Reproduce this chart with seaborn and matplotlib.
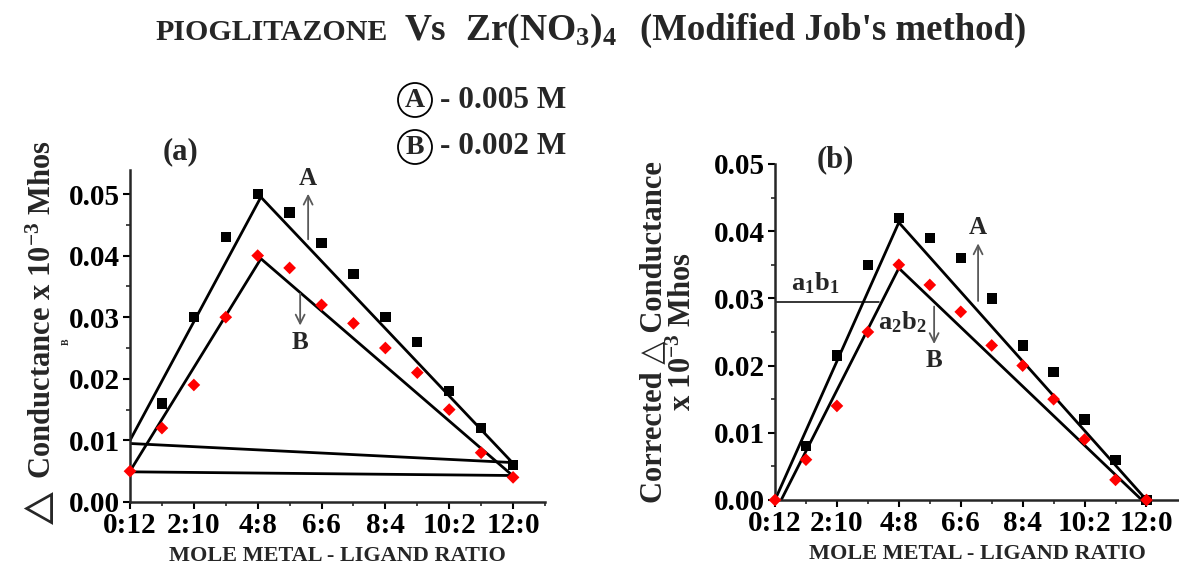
import numpy as np
import pandas as pd
import matplotlib
matplotlib.use("Agg")
import matplotlib.pyplot as plt
from matplotlib.patches import Circle
from matplotlib.ticker import MultipleLocator, FixedLocator, FormatStrFormatter
import seaborn as sns

# ---- data -------------------------------------------------------------
ratio_pos = [0, 2, 4, 6, 8, 10, 12]
ratio_labels = ["0:12", "2:10", "4:8", "6:6", "8:4", "10:2", "12:0"]

# (a) observed conductance
a_x_A = [1, 2, 3, 4, 5, 6, 7, 8, 9, 10, 11, 12]
a_y_A = [0.016, 0.030, 0.043, 0.050, 0.047, 0.042, 0.037, 0.030, 0.026, 0.018, 0.012, 0.006]
a_x_B = [0, 1, 2, 3, 4, 5, 6, 7, 8, 9, 10, 11, 12]
a_y_B = [0.005, 0.012, 0.019, 0.030, 0.040, 0.038, 0.032, 0.029, 0.025, 0.021, 0.015, 0.008, 0.004]

# (a) fitted lines
a_lineA_x = [0, 4.1, 12.05]
a_lineA_y = [0.0100, 0.0495, 0.0060]
a_lineB_x = [0, 4.1, 12.05]
a_lineB_y = [0.0050, 0.0395, 0.0040]
a_baseA_x = [0, 12]
a_baseA_y = [0.0095, 0.0064]
a_baseB_x = [0, 12]
a_baseB_y = [0.0049, 0.0043]

# (b) corrected conductance
b_x_A = [1, 2, 3, 4, 5, 6, 7, 8, 9, 10, 11, 12]
b_y_A = [0.008, 0.0215, 0.035, 0.042, 0.039, 0.036, 0.030, 0.023, 0.019, 0.012, 0.006, 0.000]
b_x_B = [0, 1, 2, 3, 4, 5, 6, 7, 8, 9, 10, 11, 12]
b_y_B = [0.000, 0.006, 0.014, 0.025, 0.035, 0.032, 0.028, 0.023, 0.020, 0.015, 0.009, 0.003, 0.000]

# (b) fitted lines
b_lineA_x = [0, 4.0, 12.0]
b_lineA_y = [0.0, 0.0413, 0.0]
b_lineB_x = [0.2, 4.0, 11.85]
b_lineB_y = [0.0, 0.0345, 0.0]
b_level_x = [0, 3.37]
b_level_y = [0.0295, 0.0295]

# ---- style ------------------------------------------------------------
sns.set_style("ticks")
plt.rcParams["font.family"] = ["Liberation Serif", "DejaVu Sans"]
plt.rcParams["font.weight"] = "bold"
plt.rcParams["mathtext.fontset"] = "custom"
plt.rcParams["mathtext.rm"] = "Liberation Serif:bold"
plt.rcParams["mathtext.it"] = "Liberation Serif:bold"
plt.rcParams["mathtext.bf"] = "Liberation Serif:bold"
plt.rcParams["mathtext.fallback"] = "stix"
plt.rcParams["axes.linewidth"] = 1.8

W, H = 1179, 569
fig = plt.figure(figsize=(W / 100, H / 100), dpi=100)


def px_axes(left, top, right, bottom):
    return fig.add_axes([left / W, 1 - bottom / H, (right - left) / W, (bottom - top) / H])


ax_a = px_axes(130, 170, 545, 502)
ax_b = px_axes(775, 164, 1179, 500)

for ax in (ax_a, ax_b):
    sns.despine(ax=ax)
    ax.set_facecolor("white")
    ax.xaxis.set_major_locator(FixedLocator(ratio_pos))
    ax.set_xticklabels(ratio_labels)
    ax.yaxis.set_major_locator(MultipleLocator(0.01))
    ax.yaxis.set_minor_locator(MultipleLocator(0.005))
    ax.yaxis.set_major_formatter(FormatStrFormatter("%.2f"))
    ax.tick_params(axis="both", which="major", length=5, width=1.5, pad=2,
                   colors="black", labelsize=21)
    ax.tick_params(axis="both", which="minor", length=3, width=1.2)
    for lab in ax.get_xticklabels() + ax.get_yticklabels():
        lab.set_fontweight("bold")
    ax.set_xlabel("MOLE METAL - LIGAND RATIO", fontsize=16, fontweight="bold", labelpad=5)

ax_a.xaxis.set_minor_locator(FixedLocator([1, 3, 5, 7, 9, 11, 13]))
ax_b.xaxis.set_minor_locator(FixedLocator([1, 3, 5, 7, 9, 11]))
ax_a.set_xlim(0, 13)
ax_a.set_ylim(0, 0.0539)
ax_b.set_xlim(0, 13.05)
ax_b.set_ylim(0, 0.05)

line_kw = dict(color="black", lw=2.0, solid_joinstyle="miter", zorder=2)
arrow_kw = dict(arrowstyle="->", color="0.35", lw=1.3, mutation_scale=16)

# ---- panel (a) --------------------------------------------------------
for xs, ys in [(a_lineA_x, a_lineA_y), (a_lineB_x, a_lineB_y),
               (a_baseA_x, a_baseA_y), (a_baseB_x, a_baseB_y)]:
    ax_a.plot(xs, ys, **line_kw)

sns.scatterplot(x=a_x_A, y=a_y_A, ax=ax_a, marker="s", s=55, color="black",
                edgecolor="none", zorder=3, clip_on=False)
sns.scatterplot(x=a_x_B, y=a_y_B, ax=ax_a, marker="D", s=42, color="red",
                edgecolor="none", zorder=3, clip_on=False)

ax_a.annotate("", xy=(5.58, 0.0505), xytext=(5.58, 0.0422), arrowprops=arrow_kw)
ax_a.annotate("", xy=(5.33, 0.0282), xytext=(5.33, 0.0343), arrowprops=arrow_kw)
ax_a.text(5.58, 0.0507, "A", ha="center", va="bottom", fontsize=18, fontweight="bold")
ax_a.text(5.33, 0.0277, "B", ha="center", va="top", fontsize=18, fontweight="bold")

ax_a.set_ylabel(r"$\triangle$ Conductance x 10$^{-3}$ Mhos", fontsize=22, fontweight="bold")
ax_a.yaxis.set_label_coords(-0.175, 0.50)
fig.text(66 / W, 1 - 342 / H, "B", rotation=90, fontsize=7, ha="center", va="center")

# ---- panel (b) --------------------------------------------------------
for xs, ys in [(b_lineA_x, b_lineA_y), (b_lineB_x, b_lineB_y)]:
    ax_b.plot(xs, ys, **line_kw)
ax_b.plot(b_level_x, b_level_y, color="black", lw=1.1, zorder=2)

sns.scatterplot(x=b_x_A, y=b_y_A, ax=ax_b, marker="s", s=55, color="black",
                edgecolor="none", zorder=3, clip_on=False)
sns.scatterplot(x=b_x_B, y=b_y_B, ax=ax_b, marker="D", s=42, color="red",
                edgecolor="none", zorder=3, clip_on=False)

ax_b.annotate("", xy=(6.56, 0.0386), xytext=(6.56, 0.0292), arrowprops=arrow_kw)
ax_b.annotate("", xy=(5.14, 0.0228), xytext=(5.14, 0.0292), arrowprops=arrow_kw)
ax_b.text(6.56, 0.0388, "A", ha="center", va="bottom", fontsize=18, fontweight="bold")
ax_b.text(5.14, 0.0225, "B", ha="center", va="top", fontsize=18, fontweight="bold")
ax_b.text(1.3, 0.0303, "a$_1$b$_1$", ha="center", va="bottom", fontsize=19)
ax_b.text(4.1, 0.0284, "a$_2$b$_2$", ha="center", va="top", fontsize=19)

ax_b.set_ylabel("Corrected \u25B3 Conductance\nx 10$^{-3}$ Mhos", fontsize=22,
                fontweight="bold", linespacing=1.05)
ax_b.yaxis.set_label_coords(-0.19, 0.5)

# ---- panel tags, title, legend ---------------------------------------
fig.text(180 / W, 1 - 152 / H, "(a)", fontsize=22, ha="center", va="center")
fig.text(835 / W, 1 - 160 / H, "(b)", fontsize=22, ha="center", va="center")

base = 1 - 40 / H
fig.text(155 / W, base, "PIOGLITAZONE", fontsize=21.5, ha="left", va="baseline")
fig.text(405 / W, base, "Vs", fontsize=27, ha="left", va="baseline")
fig.text(465 / W, base, "Zr(NO$_3$)$_4$", fontsize=27, ha="left", va="baseline")
fig.text(640 / W, base, "(Modified Job's method)", fontsize=26.5, ha="left", va="baseline")

for yc, letter, conc in [(100, "A", "- 0.005 M"), (147, "B", "- 0.002 M")]:
    fig.patches.append(Circle((415, H - yc), 17, transform=None,
                              fill=False, edgecolor="black", lw=1.3))
    fig.text(415 / W, 1 - yc / H, letter, fontsize=20, ha="center", va="center")
    fig.text(440 / W, 1 - yc / H, conc, fontsize=22.5, ha="left", va="center")

fig.savefig("out.png", dpi=100, facecolor="white")
